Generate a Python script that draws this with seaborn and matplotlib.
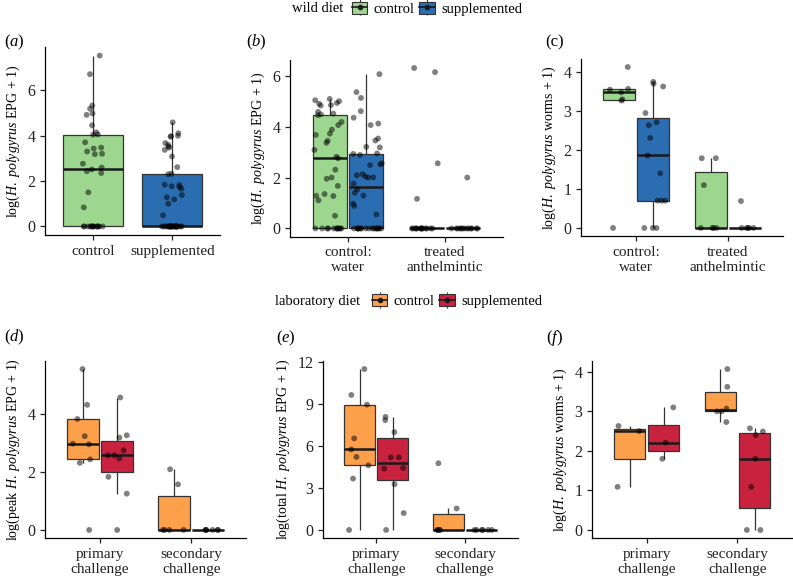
import numpy as np
import pandas as pd
import matplotlib.pyplot as plt
from matplotlib.lines import Line2D
from matplotlib.patches import Patch
import seaborn as sns

# values: log(count + 1), one list per box
# (a) wild diet, faecal egg counts
a_control = [0, 0, 0, 0, 0, 0, 0, 0, 0, 0, 0, 0, 0,
             0.84, 1.50, 2.35, 2.43, 2.51, 2.59, 2.76, 3.18, 3.20, 3.30, 3.43, 3.47,
             3.70, 4.04, 4.05, 4.14, 4.45, 4.91, 4.97, 5.18, 5.32, 6.70, 7.52]
a_supp = [0, 0, 0, 0, 0, 0, 0, 0, 0, 0, 0, 0, 0, 0, 0, 0, 0, 0, 0, 0, 0, 0, 0, 0, 0, 0,
          0.49, 1.00, 1.19, 1.28, 1.38, 1.66, 1.73, 1.77, 1.82, 1.84, 2.30, 2.32,
          2.61, 3.08, 3.37, 3.47, 3.51, 3.59, 3.67, 3.95, 3.97, 3.99, 4.10, 4.58]

# (b) wild diet x anthelmintic, egg counts
b_water_control = [0, 0, 0, 0, 0, 0, 0, 0, 0, 0, 0,
                   0.50, 1.11, 1.28, 1.29, 1.36, 1.68, 1.96, 2.01, 2.32,
                   2.77, 2.83, 3.10, 3.38, 3.46, 3.69, 3.74, 3.90, 4.08, 4.20, 4.47,
                   4.50, 4.53, 4.60, 4.85, 4.87, 4.92, 4.95, 5.02, 5.06, 5.11]
b_water_supp = [0, 0, 0, 0, 0, 0, 0, 0, 0, 0, 0, 0, 0, 0, 0, 0, 0,
                0.55, 0.89, 0.98, 1.30, 1.41, 1.54, 1.77, 2.01, 2.02, 2.05, 2.10, 2.14,
                2.50, 2.53, 2.57, 2.90, 2.94, 2.96, 3.20, 3.22, 3.47, 3.55, 4.08, 4.14,
                4.37, 4.63, 5.15, 5.38, 6.09]
b_treat_control = [0, 0, 0, 0, 0, 0, 0, 0, 0, 0, 0, 0, 0, 0, 1.17, 2.57, 6.17, 6.33]
b_treat_supp = [0, 0, 0, 0, 0, 0, 0, 0, 0, 0, 0, 0, 0, 2.01]

# (c) wild diet x anthelmintic, worm counts
c_water_control = [0, 3.27, 3.30, 3.48, 3.55, 3.57, 4.13]
c_water_supp = [0, 0, 0, 0.70, 0.70, 0.70, 1.40, 1.86, 2.31, 2.64, 2.71, 2.95, 3.63, 3.70, 3.75]
c_treat_control = [0, 0, 0, 0, 1.10, 1.79, 1.79]
c_treat_supp = [0, 0, 0, 0, 0, 0.69]

# (d) laboratory diet, peak egg counts
d_prim_control = [0, 2.31, 2.43, 2.95, 2.97, 3.23, 3.82, 4.31, 5.54]
d_prim_supp = [0, 1.25, 1.83, 2.46, 2.57, 2.57, 2.74, 3.18, 3.26, 4.56]
d_sec_control = [0, 0, 0, 0, 1.57, 2.09]
d_sec_supp = [0, 0, 0, 0, 0, 0]

# (e) laboratory diet, total egg counts
e_prim_control = [0, 3.68, 4.63, 5.23, 5.77, 6.56, 8.98, 9.67, 11.53]
e_prim_supp = [0, 1.21, 3.28, 4.40, 4.44, 5.20, 5.20, 7.01, 7.87, 8.10]
e_sec_control = [0, 0, 0, 0, 1.54, 4.78]
e_sec_supp = [0, 0, 0, 0, 0, 0]

# (f) laboratory diet, worm counts
f_prim_control = [1.09, 2.50, 2.63]
f_prim_supp = [1.80, 2.21, 3.10]
f_sec_control = [2.73, 3.00, 3.00, 3.07, 3.62, 4.07]
f_sec_supp = [0, 0, 1.09, 1.80, 2.40, 2.49, 2.57]

diets = ['control', 'supplemented']
wild_groups = ['control:\nwater', 'treated\nanthelmintic']
lab_groups = ['primary\nchallenge', 'secondary\nchallenge']

GREEN, BLUE = '#9dd68f', '#2b6db1'
ORANGE, RED = '#fda04c', '#c9223f'

W, H = 793, 581

plt.rcParams.update({
    'font.family': ['Liberation Serif', 'DejaVu Serif'],
    'mathtext.fontset': 'custom',
    'mathtext.rm': 'Liberation Serif',
    'mathtext.it': 'Liberation Serif:italic',
    'axes.linewidth': 0.9,
    'xtick.major.size': 3.5,
    'ytick.major.size': 3.5,
    'xtick.major.width': 0.9,
    'ytick.major.width': 0.9,
    'xtick.labelsize': 11,
    'ytick.labelsize': 11.5,
    'xtick.color': '#222222',
    'ytick.color': '#222222',
})


def long_df(groups):
    rows = []
    for treat, diet, vals in groups:
        rows += [(treat, diet, v) for v in vals]
    return pd.DataFrame(rows, columns=['treat', 'diet', 'y'])


def add_ax(left, top, right, bottom):
    return fig.add_axes([left / W, 1 - bottom / H, (right - left) / W, (bottom - top) / H])


def draw(ax, df, x, order, palette, dodge, jitter):
    sns.boxplot(data=df, x=x, y='y', hue='diet', order=order, hue_order=diets,
                palette=palette, dodge=dodge, width=0.75, gap=0.07 if dodge else 0,
                saturation=1, showfliers=False, showcaps=False,
                linecolor='#333333', linewidth=0.9,
                medianprops=dict(color='#1a1a1a', linewidth=1.8),
                legend=False, ax=ax)
    sns.stripplot(data=df, x=x, y='y', hue='diet', order=order, hue_order=diets,
                  palette={'control': 'black', 'supplemented': 'black'},
                  dodge=dodge, jitter=jitter, size=4.2, alpha=0.5, linewidth=0,
                  legend=False, ax=ax)
    ymax = df['y'].max()
    ax.set_ylim(-0.05 * ymax, 1.05 * ymax)
    ax.set_xlim(-0.6, 1.6)
    ax.set_xlabel('')
    sns.despine(ax=ax)


np.random.seed(7)
fig = plt.figure(figsize=(W / 100, H / 100), dpi=100)

hp = r'$\mathit{H.\ polygyrus}$'
YLAB = 10

# (a)
ax = add_ax(45, 47, 220, 235)
df = long_df([('control', 'control', a_control),
              ('supplemented', 'supplemented', a_supp)])
draw(ax, df, 'diet', diets, {'control': GREEN, 'supplemented': BLUE}, False, 0.13)
ax.set_yticks([0, 2, 4, 6])
ax.set_ylabel('log(' + hp + ' EPG + 1)', fontsize=YLAB)

# (b)
ax = add_ax(290, 60, 503, 236.5)
df = long_df([(wild_groups[0], 'control', b_water_control),
              (wild_groups[0], 'supplemented', b_water_supp),
              (wild_groups[1], 'control', b_treat_control),
              (wild_groups[1], 'supplemented', b_treat_supp)])
draw(ax, df, 'treat', wild_groups, {'control': GREEN, 'supplemented': BLUE}, True, 0.3)
ax.set_yticks([0, 2, 4, 6])
ax.set_ylabel('log(' + hp + ' EPG + 1)', fontsize=YLAB)

# (c)
ax = add_ax(581, 59, 783, 236)
df = long_df([(wild_groups[0], 'control', c_water_control),
              (wild_groups[0], 'supplemented', c_water_supp),
              (wild_groups[1], 'control', c_treat_control),
              (wild_groups[1], 'supplemented', c_treat_supp)])
draw(ax, df, 'treat', wild_groups, {'control': GREEN, 'supplemented': BLUE}, True, 0.24)
ax.set_yticks([0, 1, 2, 3, 4])
ax.set_ylabel('log(' + hp + ' worms + 1)', fontsize=YLAB)

# (d)
ax = add_ax(45, 361, 246, 538)
df = long_df([(lab_groups[0], 'control', d_prim_control),
              (lab_groups[0], 'supplemented', d_prim_supp),
              (lab_groups[1], 'control', d_sec_control),
              (lab_groups[1], 'supplemented', d_sec_supp)])
draw(ax, df, 'treat', lab_groups, {'control': ORANGE, 'supplemented': RED}, True, 0.24)
ax.set_yticks([0, 2, 4])
ax.set_ylabel('log(peak ' + hp + ' EPG + 1)', fontsize=YLAB)

# (e)
ax = add_ax(323, 361, 518, 538)
df = long_df([(lab_groups[0], 'control', e_prim_control),
              (lab_groups[0], 'supplemented', e_prim_supp),
              (lab_groups[1], 'control', e_sec_control),
              (lab_groups[1], 'supplemented', e_sec_supp)])
draw(ax, df, 'treat', lab_groups, {'control': ORANGE, 'supplemented': RED}, True, 0.24)
ax.set_yticks([0, 3, 6, 9, 12])
ax.set_ylabel('log(total ' + hp + ' EPG + 1)', fontsize=YLAB)

# (f)
ax = add_ax(592, 361, 792, 538)
df = long_df([(lab_groups[0], 'control', f_prim_control),
              (lab_groups[0], 'supplemented', f_prim_supp),
              (lab_groups[1], 'control', f_sec_control),
              (lab_groups[1], 'supplemented', f_sec_supp)])
draw(ax, df, 'treat', lab_groups, {'control': ORANGE, 'supplemented': RED}, True, 0.24)
ax.set_yticks([0, 1, 2, 3, 4])
ax.set_ylabel('log(' + hp + ' worms + 1)', fontsize=YLAB)

# panel letters
for lab, px, py in [(r'($\mathit{a}$)', 4, 42), (r'($\mathit{b}$)', 246, 42), ('(c)', 545, 42),
                    (r'($\mathit{d}$)', 4, 337), (r'($\mathit{e}$)', 276, 338),
                    (r'($\mathit{f}$)', 546, 338)]:
    fig.text(px / W, 1 - py / H, lab, fontsize=12, ha='left', va='center')


def key(color):
    return (Line2D([], [], color='#333333', marker='|', markersize=11, linestyle='none',
                   markeredgewidth=0.8),
            Patch(facecolor=color, edgecolor='#333333', linewidth=0.8),
            Line2D([], [], color='#1a1a1a', marker='o', markersize=3, linewidth=1.2))


def legend(title, colors, tx, kx, y):
    fig.text(tx / W, 1 - y / H, title, fontsize=10.5, ha='left', va='center')
    fig.legend([key(c) for c in colors], diets, loc='center left',
               bbox_to_anchor=(kx / W, 1 - y / H), ncol=2, frameon=False,
               fontsize=10.5, handlelength=1.05, handleheight=0.85,
               handletextpad=0.45, columnspacing=0.3, borderpad=0, borderaxespad=0)


legend('wild diet', [GREEN, BLUE], 292, 352, 9)
legend('laboratory diet', [ORANGE, RED], 275, 372, 301)

fig.savefig('out.png', dpi=100)
